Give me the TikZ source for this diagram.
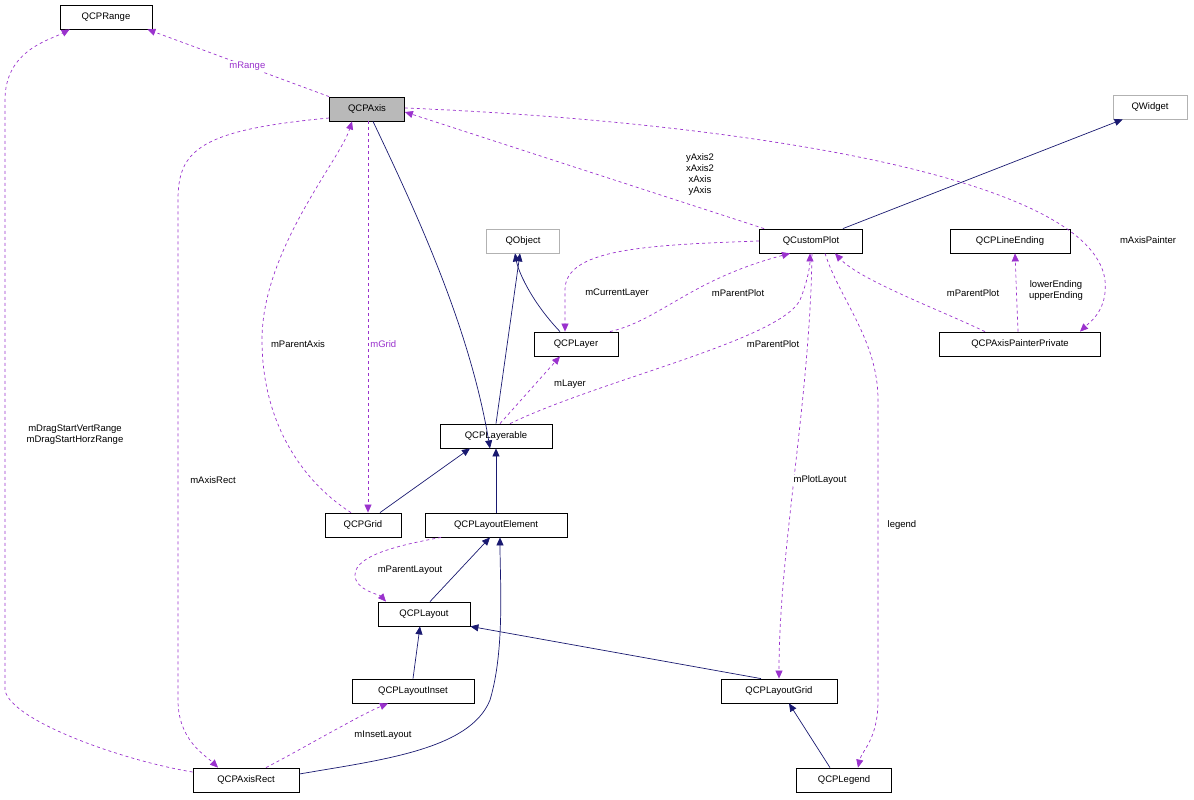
\documentclass[tikz,border=0pt]{standalone}
\usepackage{fontspec}
\setmainfont{Liberation Sans}
\usetikzlibrary{arrows.meta}
\definecolor{pur}{HTML}{9A32CD}
\definecolor{nav}{HTML}{191970}
\begin{document}
\begin{tikzpicture}[x=1pt,y=-1pt,font=\fontsize{9.5}{11}\selectfont,
 cls/.style={draw=black,fill=white,inner sep=0pt,minimum height=24pt,line width=0.8pt},
 ext/.style={cls,draw=gray!60},
 use/.style={pur,dashed,line width=0.7pt,-{Triangle[length=8pt,width=7pt]}},
 inh/.style={nav,line width=0.7pt,-{Triangle[length=8pt,width=7pt]}},
 lbl/.style={align=center,inner sep=1pt}]
\useasboundingbox (0,0) rectangle (1194,800);
\node[cls,minimum width=92pt] (range) at (106,17) {QCPRange};
\node[cls,minimum width=75pt,fill=gray!55] (axis) at (367,109) {QCPAxis};
\node[ext,minimum width=74pt] (widget) at (1150,107) {QWidget};
\node[ext,minimum width=73pt] (object) at (523,241) {QObject};
\node[cls,minimum width=103pt] (cp) at (811,241) {QCustomPlot};
\node[cls,minimum width=120pt] (le) at (1010,241) {QCPLineEnding};
\node[cls,minimum width=84pt] (layer) at (576,344) {QCPLayer};
\node[cls,minimum width=161pt] (app) at (1020,344) {QCPAxisPainterPrivate};
\node[cls,minimum width=112pt] (lay) at (496,436) {QCPLayerable};
\node[cls,minimum width=76pt] (grid) at (363,525) {QCPGrid};
\node[cls,minimum width=142pt] (el) at (496,525) {QCPLayoutElement};
\node[cls,minimum width=92pt] (layout) at (424,614) {QCPLayout};
\node[cls,minimum width=122pt] (inset) at (413,691) {QCPLayoutInset};
\node[cls,minimum width=116pt] (lgrid) at (779,691) {QCPLayoutGrid};
\node[cls,minimum width=106pt] (ar) at (246,780) {QCPAxisRect};
\node[cls,minimum width=95pt] (leg) at (844,780) {QCPLegend};
% inheritance
\draw[inh] (cp.north east) ++(-20,0) -- ([xshift=10pt]widget.south west);
\draw[inh] (layer.north) ++(-16,0) .. controls (530,300) and (518,270) .. ([xshift=-8pt]object.south);
\draw[inh] (lay.north) -- ([xshift=-3pt]object.south);
\draw[inh] ([xshift=6pt]axis.south) .. controls (420,220) and (470,330) .. ([xshift=-6pt]lay.south);
\draw[inh] ([xshift=17pt]grid.north) -- ([xshift=-26pt]lay.south);
\draw[inh] (el.north) -- (lay.south);
\draw[inh] ([xshift=6pt]layout.north) -- ([xshift=-6pt]el.south);
\draw[inh] (inset.north) -- ([xshift=-4pt]layout.south);
\draw[inh] ([xshift=-18pt]lgrid.north) -- (layout.south east);
\draw[inh] ([xshift=-14pt]leg.north) -- ([xshift=10pt]lgrid.south);
\draw[inh] (ar.east) ++(0,-6) .. controls (380,760) and (470,750) .. (490,700) .. controls (505,650) and (500,580) .. ([xshift=4pt]el.south);
% usage
\draw[use] (axis.north west) -- node[lbl,fill=white,pos=0.45]{mRange} ([xshift=-5pt]range.south east);
\draw[use] (ar.west) ++(0,-8) .. controls (120,760) and (10,720) .. (5,690) -- (5,100) .. controls (5,50) and (50,40) .. ([xshift=10pt]range.south west);
\node[lbl,fill=white] at (75,435) {mDragStartVertRange\\mDragStartHorzRange};
\draw[use] (axis.west) ++(0,9) .. controls (200,130) and (178,150) .. (178,200) -- (178,700) .. controls (178,740) and (205,755) .. ([xshift=-28pt]ar.north);
\node[lbl,fill=white] at (213,480) {mAxisRect};
\draw[use] ([xshift=-12pt]grid.north) .. controls (300,480) and (262,420) .. (262,340) .. controls (262,250) and (340,160) .. ([xshift=-15pt]axis.south);
\node[lbl,fill=white] at (298,344) {mParentAxis};
\draw[use] ([xshift=1pt]axis.south) -- node[lbl,fill=white,right=1pt,pos=0.57]{mGrid} ([xshift=5pt]grid.north);
\draw[use] ([xshift=5pt]cp.north west) -- ([yshift=-3pt]axis.east);
\node[lbl] at (700,175) {yAxis2\\xAxis2\\xAxis\\yAxis};
\draw[use] ([yshift=1pt]axis.east) .. controls (700,120) and (1090,170) .. (1105,280) .. controls (1108,310) and (1090,322) .. ([xshift=60pt]app.north);
\node[lbl,fill=white] at (1148,240) {mAxisPainter};
\draw[use] (cp.west) .. controls (640,245) and (565,250) .. (565,290) -- ([xshift=-11pt]layer.north);
\node[lbl,fill=white] at (617,293) {mCurrentLayer};
\draw[use] ([xshift=34pt]layer.north) .. controls (660,320) and (690,280) .. ([xshift=-21pt]cp.south);
\node[lbl,fill=white] at (738,293) {mParentPlot};
\draw[use] ([xshift=14pt]lay.north) .. controls (600,380) and (780,340) .. (800,300) .. controls (808,280) and (810,265) .. ([xshift=-1pt]cp.south);
\node[lbl,fill=white] at (773,344) {mParentPlot};
\draw[use] ([xshift=4pt]lay.north) -- ([xshift=-16pt]layer.south);
\node[lbl,fill=white] at (570,384) {mLayer};
\draw[use] ([xshift=-35pt]app.north) .. controls (940,310) and (860,280) .. ([xshift=24pt]cp.south);
\node[lbl,fill=white] at (973,293) {mParentPlot};
\draw[use] ([xshift=-2pt]app.north) -- ([xshift=5pt]le.south);
\node[lbl,fill=white] at (1056,291) {lowerEnding\\upperEnding};
\draw[use] (cp.south) ++(1,0) .. controls (810,400) and (779,550) .. (lgrid.north);
\node[lbl,fill=white] at (820,480) {mPlotLayout};
\draw[use] ([xshift=14pt]cp.south) .. controls (840,300) and (878,340) .. (878,400) -- (878,700) .. controls (878,740) and (862,750) .. ([xshift=14pt]leg.north);
\node[lbl,fill=white] at (902,525) {legend};
\draw[use] ([xshift=-55pt]el.south) .. controls (400,545) and (355,555) .. (355,575) .. controls (355,590) and (380,595) .. ([xshift=-38pt]layout.north);
\node[lbl,fill=white] at (410,570) {mParentLayout};
\draw[use] ([xshift=20pt]ar.north) .. controls (300,750) and (360,715) .. ([xshift=-25pt]inset.south);
\node[lbl,fill=white] at (383,735) {mInsetLayout};
\end{tikzpicture}
\end{document}
